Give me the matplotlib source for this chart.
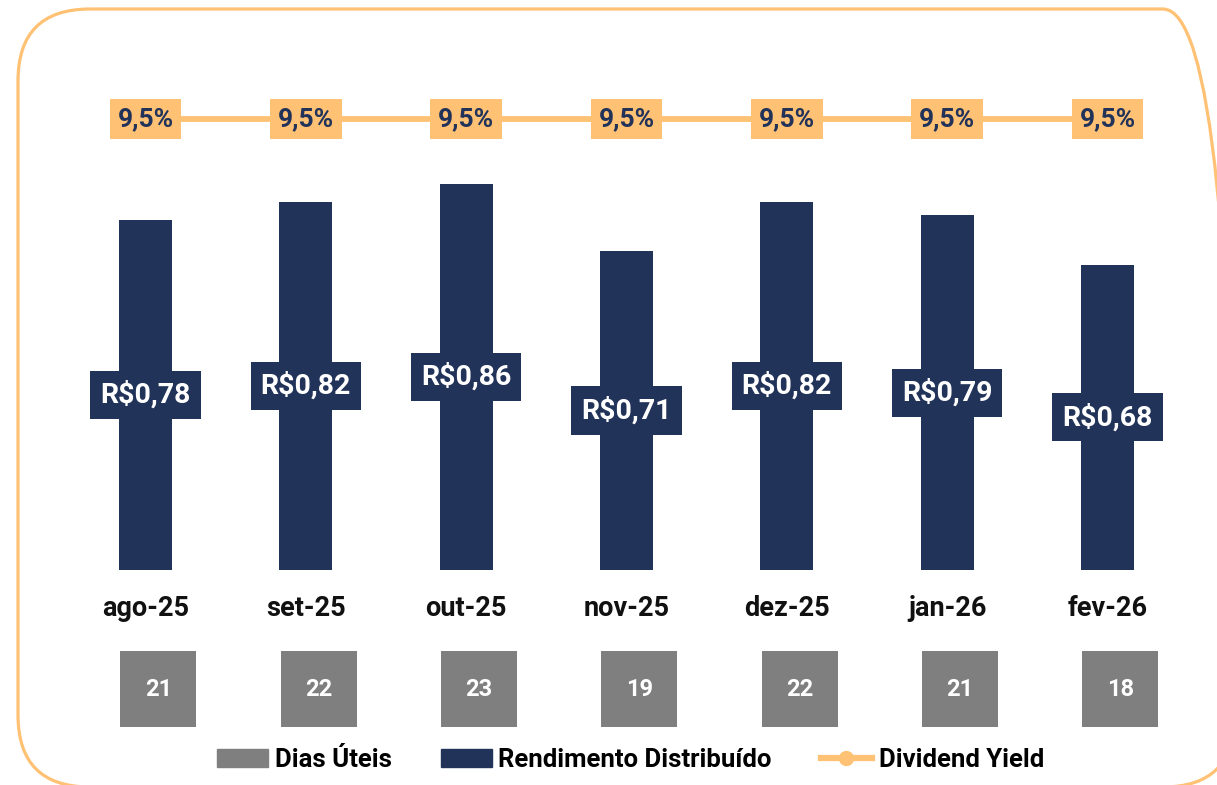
import numpy as np
import matplotlib
matplotlib.use("Agg")
from matplotlib import pyplot as plt
from matplotlib.patches import Patch, FancyBboxPatch
from matplotlib.lines import Line2D

plt.rcParams['font.family'] = ['Roboto', 'DejaVu Sans']

# data
meses = ["ago-25", "set-25", "out-25", "nov-25", "dez-25", "jan-26", "fev-26"]
rendimento = [0.78, 0.82, 0.86, 0.71, 0.82, 0.79, 0.68]
dias_uteis = [21, 22, 23, 19, 22, 21, 18]
dividend_yield = [9.5, 9.5, 9.5, 9.5, 9.5, 9.5, 9.5]

navy = "#22335A"
gray = "#7F7F7F"
orange = "#FFC174"

fig = plt.figure(figsize=(12.17, 7.85), dpi=100)

# background axes in pixel-like units for the rounded frame
bg = fig.add_axes([0, 0, 1, 1], zorder=-1)
bg.set_xlim(0, 1217)
bg.set_ylim(0, 785)
bg.axis("off")
bg.add_patch(FancyBboxPatch((18, -2), 1217, 778,
                            boxstyle="round,pad=0,rounding_size=72",
                            fc="none", ec=orange, lw=2.3, clip_on=False))

ax = fig.add_axes([0, 0, 1, 1])
ax.axis("off")

x = np.arange(len(meses))
ax.set_xlim(-0.9075, 6.683)
ax.set_ylim(-0.4788, 1.2695)

ax.bar(x, rendimento, width=0.33, color=navy, zorder=2)
for xi, v in zip(x, rendimento):
    ax.text(xi, v / 2, "R$" + f"{v:.2f}".replace(".", ","), ha="center", va="center",
            fontsize=20.5, fontweight="bold", color="white", zorder=3,
            bbox=dict(boxstyle="square,pad=0.35", fc=navy, ec="none"))

# month labels
for xi, m in zip(x, meses):
    ax.text(xi, -0.085, m, ha="center", va="center", fontsize=19.5,
            fontweight="bold", color="#111111")

# dias uteis squares
ax.scatter(x + 0.08, np.full(len(x), -0.265), marker="s", s=3070, color=gray,
           linewidths=0, zorder=2)
for xi, d in zip(x, dias_uteis):
    ax.text(xi + 0.08, -0.265, str(d), ha="center", va="center", fontsize=17,
            fontweight="bold", color="white", zorder=3)

# dividend yield line
ax2 = ax.twinx()
ax2.axis("off")
ax2.set_ylim(0, 9.5 / 0.8484)
ax2.plot(x, dividend_yield, color=orange, lw=4.2, marker="o", ms=10, zorder=2)
for xi, dy in zip(x, dividend_yield):
    ax2.text(xi, dy, f"{dy:.1f}%".replace(".", ","), ha="center", va="center",
             fontsize=19, fontweight="bold", color=navy, zorder=3,
             bbox=dict(boxstyle="square,pad=0.3", fc=orange, ec="none"))

handles = [Patch(color=gray, label="Dias Úteis"),
           Patch(color=navy, label="Rendimento Distribuído"),
           Line2D([], [], color=orange, lw=4.5, marker="o", ms=10, label="Dividend Yield")]
fig.legend(handles=handles, loc="center", bbox_to_anchor=(0.518, 0.032), ncol=3,
           frameon=False, prop=dict(size=18.5, weight="bold"), handlelength=2.0,
           handleheight=0.7, handletextpad=0.25, columnspacing=1.9)

fig.savefig("out.png", dpi=100)
